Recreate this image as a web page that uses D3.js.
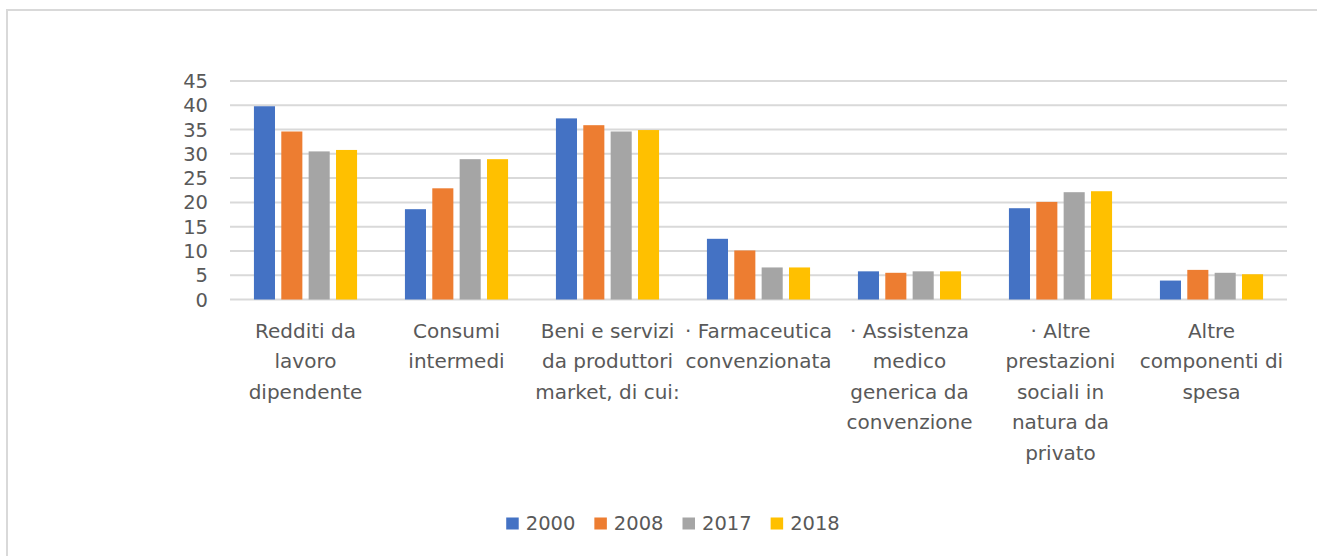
<!DOCTYPE html>
<html>
<head>
<meta charset="utf-8">
<script src="https://cdn.jsdelivr.net/npm/d3@7"></script>
<style>
  html, body { margin: 0; padding: 0; background: #fff; }
  svg { display: block; }
  text { font-family: "DejaVu Sans", sans-serif; fill: #595959; }
</style>
</head>
<body>
<svg id="chart" width="1317" height="556"></svg>
<script>
// ---- Data ----
const categories = [
  "Redditi da\nlavoro\ndipendente",
  "Consumi\nintermedi",
  "Beni e servizi\nda produttori\nmarket, di cui:",
  "· Farmaceutica\nconvenzionata",
  "· Assistenza\nmedico\ngenerica da\nconvenzione",
  "· Altre\nprestazioni\nsociali in\nnatura da\nprivato",
  "Altre\ncomponenti di\nspesa"
];
const seriesNames = ["2000", "2008", "2017", "2018"];
const values2000 = [39.8, 18.6, 37.3, 12.5, 5.8, 18.8, 3.9];
const values2008 = [34.6, 22.9, 35.9, 10.1, 5.5, 20.1, 6.1];
const values2017 = [30.5, 28.9, 34.6, 6.6, 5.8, 22.1, 5.5];
const values2018 = [30.8, 28.9, 34.9, 6.6, 5.8, 22.3, 5.2];
const seriesValues = [values2000, values2008, values2017, values2018];
const yTicks = [0, 5, 10, 15, 20, 25, 30, 35, 40, 45];
const colors = ["#4472C4", "#ED7D31", "#A5A5A5", "#FFC000"];

// ---- Layout ----
const svg = d3.select("#chart");
const plot = { left: 230, right: 1287, top: 81, bottom: 299.5 };

// outer chart border
svg.append("rect")
  .attr("x", 7).attr("y", 10)
  .attr("width", 1400).attr("height", 600)
  .attr("fill", "#fff")
  .attr("stroke", "#d9d9d9").attr("stroke-width", 2);

const y = d3.scaleLinear().domain([0, 45]).range([plot.bottom, plot.top]);
const x0 = d3.scaleBand().domain(d3.range(categories.length)).range([plot.left, plot.right]).padding(0);
const bw = x0.bandwidth();
const groupW = bw * 0.683;
const x1 = d3.scaleBand().domain(d3.range(seriesNames.length))
  .range([(bw - groupW) / 2, (bw + groupW) / 2]).paddingInner(0.23).paddingOuter(0);

// gridlines
svg.append("g").selectAll("line").data(yTicks).join("line")
  .attr("x1", plot.left).attr("x2", plot.right)
  .attr("y1", d => y(d)).attr("y2", d => y(d))
  .attr("stroke", "#d9d9d9").attr("stroke-width", 2);

// y tick labels
svg.append("g").selectAll("text").data(yTicks).join("text")
  .attr("x", 208).attr("y", d => y(d) + 1.5)
  .attr("text-anchor", "end").attr("dominant-baseline", "middle")
  .style("font-size", "19.5px")
  .text(d => d);

// bars
const rows = [];
categories.forEach((c, i) => seriesValues.forEach((vals, s) => rows.push({ i, s, v: vals[i] })));
svg.append("g").selectAll("rect").data(rows).join("rect")
  .attr("x", d => x0(d.i) + x1(d.s))
  .attr("width", x1.bandwidth())
  .attr("y", d => y(d.v))
  .attr("height", d => y(0) - y(d.v))
  .attr("fill", d => colors[d.s]);

// category labels
const catG = svg.append("g");
categories.forEach((c, i) => {
  const t = catG.append("text")
    .attr("x", x0(i) + bw / 2)
    .attr("y", 337.5)
    .attr("text-anchor", "middle")
    .style("font-size", "20px");
  c.split("\n").forEach((line, k) => {
    t.append("tspan").attr("x", x0(i) + bw / 2).attr("dy", k === 0 ? 0 : 30.5).text(line);
  });
});

// legend
const legend = svg.append("g");
let cx = 0;
seriesNames.forEach((name, s) => {
  const g = legend.append("g");
  g.append("rect").attr("x", cx).attr("y", 0).attr("width", 12.5).attr("height", 12).attr("fill", colors[s]);
  const t = g.append("text").attr("x", cx + 19.5).attr("y", 6.5)
    .attr("dominant-baseline", "middle").style("font-size", "19.5px").text(name);
  const w = t.node().getComputedTextLength();
  cx += 19.5 + w + 19;
});
const totalW = cx - 19;
legend.attr("transform", `translate(${673 - totalW / 2}, 517.5)`);
</script>
</body>
</html>
